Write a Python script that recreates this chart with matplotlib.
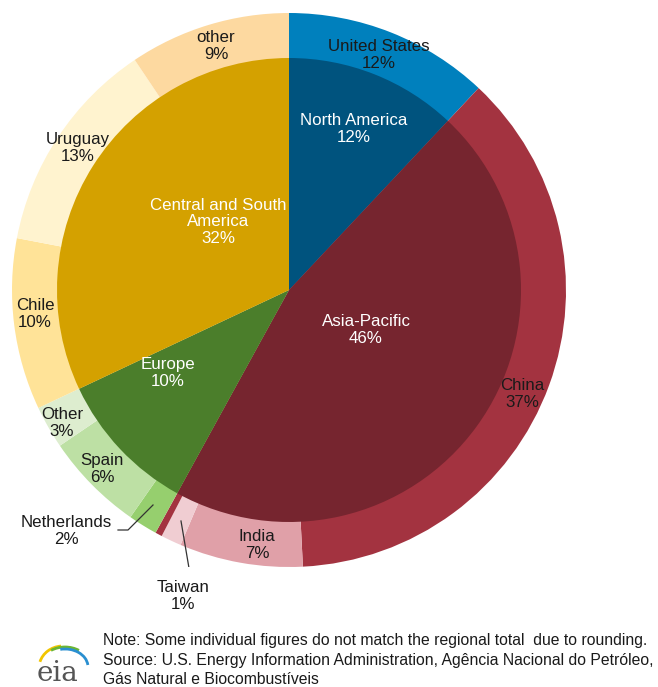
import matplotlib
matplotlib.use("Agg")
import matplotlib.pyplot as plt
from matplotlib.patches import Arc
import numpy as np

plt.rcParams['font.family'] = ['Liberation Sans', 'DejaVu Sans']

# ---- data ----
regions = ["North America", "Asia-Pacific", "Europe", "Central and South\nAmerica"]
region_values = [12, 46, 10, 32]
region_colors = ["#00537E", "#76252F", "#4B7E2B", "#D4A100"]

countries = ["United States", "China", "India", "Taiwan", "", "Netherlands", "Spain",
             "Other", "Chile", "Uruguay", "other"]
country_values = [12, 37.2, 7.2, 1.2, 0.4, 1.7, 5.8, 2.5, 10, 12.6, 9.4]
country_labels = ["12%", "37%", "7%", "1%", "", "2%", "6%", "3%", "10%", "13%", "9%"]
region_labels = ["12%", "46%", "10%", "32%"]
country_colors = ["#0080BD", "#A33340", "#E0A0A8", "#F0CDD2", "#A33340", "#96CF6E",
                  "#BDE0A4", "#DDEDCF", "#FFE398", "#FFF3CF", "#FDD9A0"]

# ---- layout ----
W, H = 658, 687
cx, cy, R = 289, 290, 277
r_in = 232 / R

fig = plt.figure(figsize=(W / 100, H / 100), dpi=100)
ax = fig.add_axes([(cx - R) / W, (H - cy - R) / H, 2 * R / W, 2 * R / H])

ax.pie(country_values, colors=country_colors, radius=1, startangle=90,
       counterclock=False, wedgeprops=dict(linewidth=0))
ax.pie(region_values, colors=region_colors, radius=r_in, startangle=90,
       counterclock=False, wedgeprops=dict(linewidth=0))
ax.set_xlim(-1, 1)
ax.set_ylim(-1, 1)
ax.set_aspect('equal')
ax.axis('off')

def d(px, py):
    return (px - cx) / R, (cy - py) / R

fs = 12.2
ls = 1.12
# pixel label positions (centre)
country_pos = [(379, 55), (522, 394), (257, 545), (183, 596), None, (66, 531),
               (102, 469), (62, 423), (35, 314), (78, 148), (216, 46)]
for name, lab, pos in zip(countries, country_labels, country_pos):
    if pos is None:
        continue
    x, y = d(*pos)
    ax.text(x, y, f"{name}\n{lab}", ha='center', va='center', fontsize=fs,
            color='#1A1A1A', linespacing=ls)

region_pos = [(354, 129), (366, 330), (168, 373), (218, 222)]
for name, lab, pos in zip(regions, region_labels, region_pos):
    x, y = d(*pos)
    ax.text(x, y, f"{name}\n{lab}", ha='center', va='center', fontsize=fs,
            color='white', linespacing=ls)

# leader lines
x1, y1 = d(181, 521); x2, y2 = d(190, 574)
ax.plot([x1, x2], [y1, y2], color='#333333', lw=0.9)
xs, ys = zip(d(153, 505), d(128, 530), d(118, 530))
ax.plot(xs, ys, color='#333333', lw=0.9)

# ---- footer ----
ffs = 11.35
fig.text(103 / W, 1 - 641 / H, "Note: Some individual figures do not match the regional total  due to rounding.",
         fontsize=ffs, color='#1A1A1A', va='center', ha='left')
fig.text(103 / W, 1 - 661 / H, "Source: U.S. Energy Information Administration, Agência Nacional do Petróleo,",
         fontsize=ffs, color='#1A1A1A', va='center', ha='left')
fig.text(103 / W, 1 - 680 / H, "Gás Natural e Biocombustíveis",
         fontsize=ffs, color='#1A1A1A', va='center', ha='left')

# eia logo
lax = fig.add_axes([30 / W, 0, 72 / W, 57 / H])
lax.set_xlim(0, 72)
lax.set_ylim(0, 57)
lax.axis('off')
lax.text(27, 6, "eia", fontsize=20, family=['DejaVu Serif'],
         color='#555555', ha='center', va='baseline')
for (w, h, c, t1, t2, xc, yc) in [(48, 44, '#F2C500', 95, 165, 33, 19),
                                  (50, 40, '#6BB534', 50, 130, 35, 20),
                                  (46, 36, '#2A8FD0', 5, 105, 35, 20)]:
    lax.add_patch(Arc((xc, yc), w, h, theta1=t1, theta2=t2, color=c, lw=2.0))

fig.savefig("out.png", dpi=100)
